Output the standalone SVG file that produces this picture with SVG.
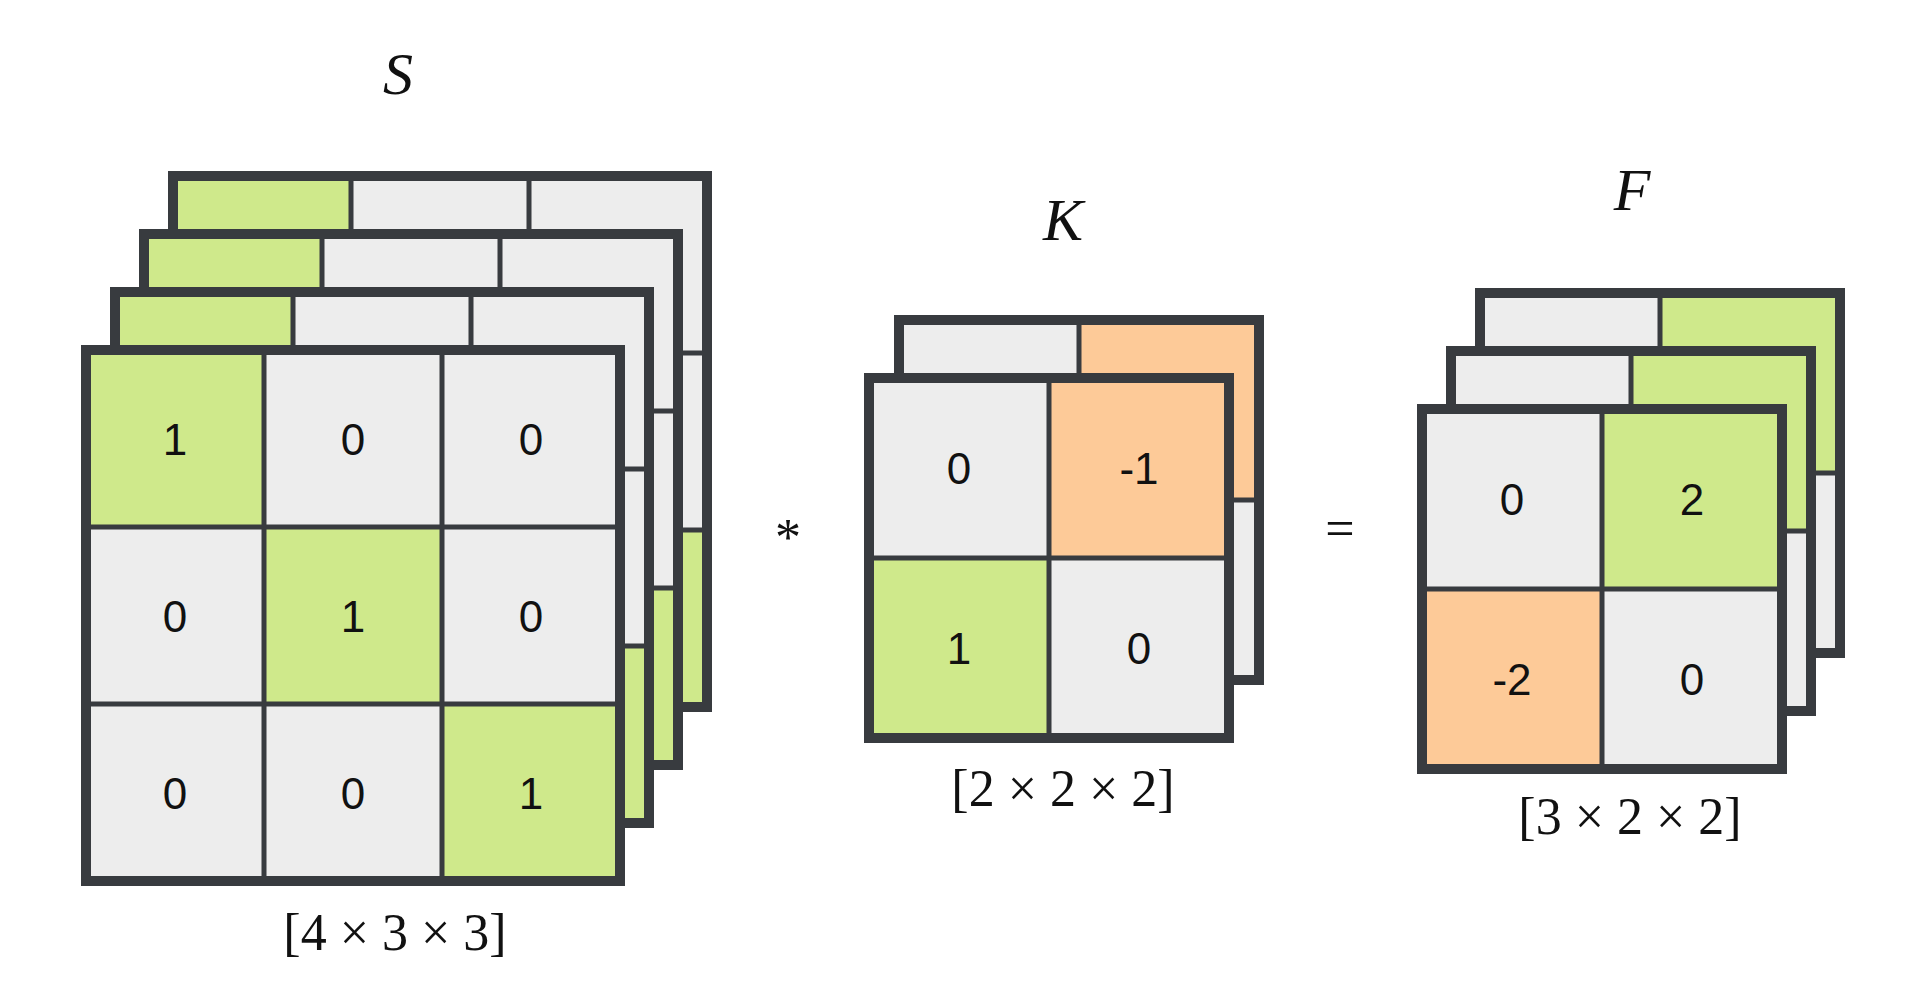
<svg xmlns="http://www.w3.org/2000/svg" width="1920" height="1008" viewBox="0 0 1920 1008">
<style>
.g{fill:#cfe98b}.e{fill:#ededed}.o{fill:#fdca98}
.ln{stroke:#383b3f;stroke-width:5;fill:none}
.ob{stroke:#383b3f;stroke-width:10;fill:none}
.n{font-family:"Liberation Sans",Arial,sans-serif;font-size:44px;fill:#111;text-anchor:middle;dominant-baseline:central}
.m{font-family:"Liberation Serif","DejaVu Serif",serif;font-style:italic;font-size:60px;fill:#111;text-anchor:middle}
.d{font-family:"Liberation Serif","DejaVu Serif",serif;font-size:52px;fill:#111;text-anchor:middle}
</style>
<defs>
<g id="sgrid">
<rect class="e" x="0" y="0" width="534" height="531"/>
<rect class="g" x="0" y="0" width="178" height="177"/>
<rect class="g" x="178" y="177" width="178" height="177"/>
<rect class="g" x="356" y="354" width="178" height="177"/>
<path class="ln" d="M178 0V531M356 0V531M0 177H534M0 354H534"/>
<rect class="ob" x="0" y="0" width="534" height="531"/>
</g>
<g id="kgrid">
<rect class="e" x="0" y="0" width="360" height="360"/>
<rect class="o" x="180" y="0" width="180" height="180"/>
<rect class="g" x="0" y="180" width="180" height="180"/>
<path class="ln" d="M180 0V360M0 180H360"/>
<rect class="ob" x="0" y="0" width="360" height="360"/>
</g>
<g id="fgrid">
<rect class="e" x="0" y="0" width="360" height="360"/>
<rect class="g" x="180" y="0" width="180" height="180"/>
<rect class="o" x="0" y="180" width="180" height="180"/>
<path class="ln" d="M180 0V360M0 180H360"/>
<rect class="ob" x="0" y="0" width="360" height="360"/>
</g>
</defs>
<rect width="1920" height="1008" fill="#fff"/>
<g id="S">
<use href="#sgrid" x="173" y="176"/>
<use href="#sgrid" x="144" y="234"/>
<use href="#sgrid" x="115" y="292"/>
<use href="#sgrid" x="86" y="350"/>
<text class="n" x="175" y="439">1</text><text class="n" x="353" y="439">0</text><text class="n" x="531" y="439">0</text>
<text class="n" x="175" y="616">0</text><text class="n" x="353" y="616">1</text><text class="n" x="531" y="616">0</text>
<text class="n" x="175" y="793">0</text><text class="n" x="353" y="793">0</text><text class="n" x="531" y="793">1</text>
<text class="m" x="398" y="94">S</text>
<text class="d" x="395" y="950">[4 × 3 × 3]</text>
</g>
<g id="K">
<use href="#kgrid" x="899" y="320"/>
<use href="#kgrid" x="869" y="378"/>
<text class="n" x="959" y="468">0</text><text class="n" x="1139" y="468">-1</text>
<text class="n" x="959" y="648">1</text><text class="n" x="1139" y="648">0</text>
<text class="m" x="1063" y="240">K</text>
<text class="d" x="1063" y="806">[2 × 2 × 2]</text>
</g>
<g id="F">
<use href="#fgrid" x="1480" y="293"/>
<use href="#fgrid" x="1451" y="351"/>
<use href="#fgrid" x="1422" y="409"/>
<text class="n" x="1512" y="499">0</text><text class="n" x="1692" y="499">2</text>
<text class="n" x="1512" y="679">-2</text><text class="n" x="1692" y="679">0</text>
<text class="m" x="1632" y="210">F</text>
<text class="d" x="1630" y="834">[3 × 2 × 2]</text>
</g>
<g id="ops">
<text class="d" x="788" y="555">*</text>
<text class="d" x="1340" y="546">=</text>
</g>
</svg>
